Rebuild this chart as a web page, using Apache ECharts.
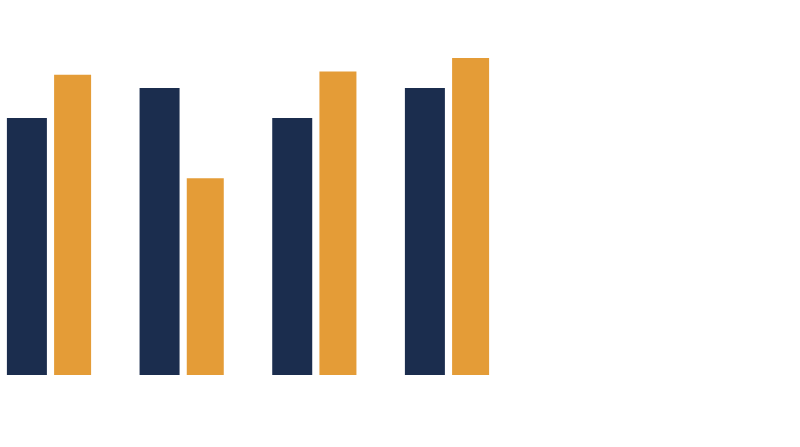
<!DOCTYPE html>
<html>
<head>
<meta charset="utf-8">
<script src="https://cdn.jsdelivr.net/npm/echarts@6/dist/echarts.min.js"></script>
<style>html,body{margin:0;padding:0;background:#fff}#c{width:800px;height:447px}</style>
</head>
<body>
<div id="c"></div>
<script>
const categories = ['A', 'B', 'C', 'D'];
const seriesNavy = [77, 86, 77, 86];
const seriesOrange = [90, 59, 91, 95];

const chart = echarts.init(document.getElementById('c'), null, {renderer: 'canvas'});
chart.setOption({
  animation: false,
  backgroundColor: '#ffffff',
  grid: {left: 49, width: 398, top: 8, bottom: 72, containLabel: false},
  xAxis: {
    type: 'category', data: categories, boundaryGap: false,
    axisLine: {show: false}, axisTick: {show: false}, axisLabel: {show: false}, splitLine: {show: false}
  },
  yAxis: {
    type: 'value', min: 0, max: 110,
    axisLine: {show: false}, axisTick: {show: false}, axisLabel: {show: false}, splitLine: {show: false}
  },
  series: [
    {type: 'bar', data: seriesNavy, barWidth: 40, barGap: '18%', itemStyle: {color: '#1b2d4e'}},
    {type: 'bar', data: seriesOrange, barWidth: 37, itemStyle: {color: '#e49c37'}}
  ]
});
</script>
</body>
</html>
